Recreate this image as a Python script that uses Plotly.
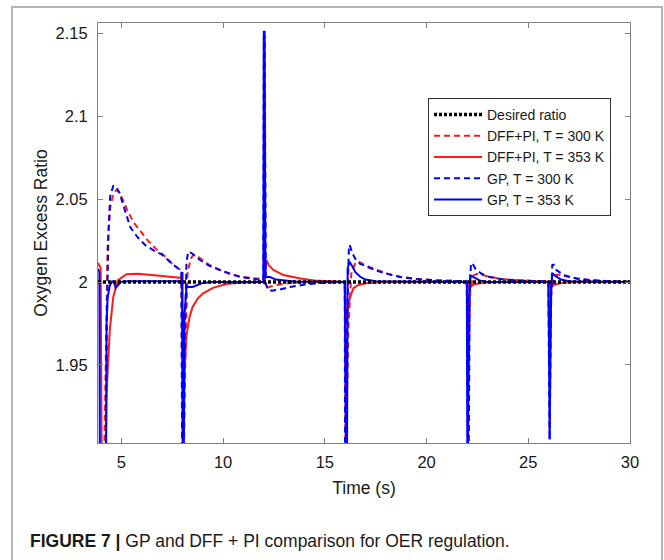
import plotly.graph_objects as go

# ---------------- data ----------------
desired_t = [3.85, 30.0]
desired_v = [2.0, 2.0]

dffpi_300_t = [4.10, 4.22, 4.32, 4.45, 4.60, 4.75, 4.90, 5.10, 5.30, 5.60, 5.93, 6.30, 6.70, 7.10, 7.50, 7.95,
               8.02, 8.15, 8.25, 8.40, 8.55, 8.80, 9.30, 9.80, 10.4, 11.0, 11.6, 11.98,
               12.02, 12.15, 12.50, 13.2, 14.0, 15.98,
               16.02, 16.15, 16.30, 16.50, 16.65, 17.0, 17.56, 18.1, 18.7, 19.5, 20.5, 21.98,
               22.04, 22.15, 22.30, 22.50, 23.0, 23.6, 24.5, 25.98,
               26.05, 26.15, 26.30, 26.50, 27.0, 27.8, 29.0, 30.0]
dffpi_300_v = [1.85, 1.96, 2.02, 2.045, 2.053, 2.0555, 2.054, 2.049, 2.043, 2.036, 2.031, 2.025, 2.020, 2.016, 2.011, 2.007,
               1.85, 1.96, 2.005, 2.014, 2.0165, 2.015, 2.0105, 2.0075, 2.0045, 2.003, 2.0022, 2.002,
               2.0, 1.9965, 1.998, 1.9993, 2.0, 2.0,
               1.88, 1.97, 2.005, 2.0115, 2.0125, 2.010, 2.0073, 2.005, 2.0032, 2.002, 2.001, 2.0005,
               1.93, 1.995, 2.004, 2.005, 2.0035, 2.002, 2.001, 2.0003,
               1.95, 1.998, 2.004, 2.0045, 2.003, 2.0015, 2.0005, 2.0002]

dffpi_353_t = [3.85, 3.93, 3.98, 4.05, 4.20, 4.26, 4.37, 4.43, 4.60, 4.82, 5.25, 5.80, 6.50, 7.30, 7.97,
               8.03, 8.10, 8.20, 8.35, 8.50, 8.75, 9.00, 9.50, 10.2, 11.0, 11.98,
               12.05, 12.12, 12.25, 12.47, 12.96, 13.8, 14.5, 15.5, 15.98,
               16.05, 16.15, 16.25, 16.40, 16.60, 17.0, 18.0, 21.98,
               22.08, 22.30, 22.80, 23.5, 25.98,
               26.10, 26.30, 26.80, 27.5, 30.0]
dffpi_353_v = [2.0115, 2.009, 2.0085, 1.85, 1.85, 1.931, 1.961, 1.971, 1.991, 2.001, 2.0047, 2.005, 2.0042, 2.0032, 2.0025,
               1.85, 1.945, 1.968, 1.979, 1.985, 1.990, 1.993, 1.9965, 1.999, 1.9998, 2.0,
               2.0, 2.0135, 2.010, 2.0073, 2.0042, 2.0022, 2.001, 2.0003, 2.0,
               1.975, 1.986, 1.991, 1.9962, 1.998, 1.9993, 2.0, 2.0,
               1.996, 1.9985, 1.9997, 2.0, 2.0,
               1.997, 1.9985, 1.9998, 2.0, 2.0]

gp_300_t = [4.20, 4.28, 4.36, 4.45, 4.60, 4.75, 4.90, 5.10, 5.44, 5.80, 6.20, 6.60, 7.00, 7.50, 7.95,
            8.00, 8.12, 8.20, 8.28, 8.45, 8.86, 9.30, 9.84, 10.8, 11.8, 11.98,
            12.00, 12.04, 12.10, 12.20, 12.40, 12.80, 13.3, 14.0, 14.8, 15.98,
            16.00, 16.10, 16.18, 16.22, 16.35, 16.50, 16.74, 17.2, 17.56, 18.2, 18.7, 19.5, 20.5, 21.98,
            22.05, 22.12, 22.18, 22.25, 22.40, 22.70, 23.1, 23.8, 25.98,
            26.05, 26.12, 26.18, 26.25, 26.40, 26.80, 27.4, 28.5, 30.0]
gp_300_v = [1.85, 1.97, 2.03, 2.052, 2.058, 2.0575, 2.054, 2.046, 2.033, 2.027, 2.022, 2.019, 2.0165, 2.011, 2.0065,
            1.85, 1.97, 2.012, 2.0183, 2.0175, 2.0133, 2.010, 2.0073, 2.0032, 2.0012, 2.001,
            2.148, 2.148, 1.999, 1.9955, 1.9948, 1.9955, 1.997, 1.9985, 1.9995, 2.0,
            1.85, 1.98, 2.020, 2.0224, 2.0175, 2.014, 2.011, 2.0085, 2.0068, 2.0045, 2.003, 2.0018, 2.001, 2.0005,
            1.85, 1.99, 2.011, 2.0115, 2.008, 2.005, 2.003, 2.0015, 2.0003,
            1.905, 1.99, 2.0103, 2.0105, 2.007, 2.004, 2.002, 2.0007, 2.0002]

gp_353_t = [3.85, 3.92, 3.95, 4.24, 4.27, 4.32, 4.43, 4.55, 4.63, 4.72, 4.80, 4.95, 5.30, 7.95,
            8.00, 8.04, 8.10, 8.20, 8.50, 9.00, 9.50, 11.98,
            12.00, 12.04, 12.08, 12.30, 12.60, 13.5, 15.98,
            16.00, 16.08, 16.12, 16.20, 16.35, 16.50, 16.74, 17.0, 17.5, 21.98,
            22.02, 22.08, 22.15, 22.30, 22.60, 23.0, 26.0,
            26.05, 26.12, 26.18, 26.30, 26.60, 27.0, 30.0]
gp_353_v = [2.008, 2.006, 1.85, 1.85, 1.975, 1.99, 1.998, 2.0005, 2.0, 1.9965, 1.9975, 2.0, 2.0005, 2.0005,
            2.006, 1.85, 1.98, 1.997, 1.997, 1.9995, 2.0, 2.0,
            2.151, 2.151, 2.003, 2.003, 2.0015, 2.0003, 2.0,
            1.85, 1.85, 2.008, 2.0123, 2.0095, 2.006, 2.0032, 2.0015, 2.0005, 2.0,
            1.85, 1.99, 2.004, 2.003, 2.001, 2.0, 2.0,
            1.905, 1.995, 2.0053, 2.004, 2.0015, 2.0005, 2.0]

x_tickvals = [5, 10, 15, 20, 25, 30]
y_tickvals = [1.95, 2.0, 2.05, 2.1, 2.15]
y_ticktext = ["1.95", "2", "2.05", "2.1", "2.15"]

# ---------------- layout geometry ----------------
W, H = 664, 560
L, R, T, B = 98, 34, 23, 117
PW, PH = W - L - R, H - T - B

def px2x(px):
    return (px - L) / PW

def px2y(py):
    return 1 - (py - T) / PH

RED = "#ff1a1a"
BLUE = "#0000ff"
FONT = "Liberation Sans, Arial, Helvetica, sans-serif"
TXT = "#1a1a1a"

fig = go.Figure()
fig.add_trace(go.Scatter(x=dffpi_300_t, y=dffpi_300_v, mode="lines", name="DFF+PI, T = 300 K",
                         line=dict(color=RED, width=2, dash="6px,4px"), legendrank=2))
fig.add_trace(go.Scatter(x=dffpi_353_t, y=dffpi_353_v, mode="lines", name="DFF+PI, T = 353 K",
                         line=dict(color=RED, width=2), legendrank=3))
fig.add_trace(go.Scatter(x=gp_300_t, y=gp_300_v, mode="lines", name="GP, T = 300 K",
                         line=dict(color=BLUE, width=2, dash="6px,4px"), legendrank=4))
fig.add_trace(go.Scatter(x=gp_353_t, y=gp_353_v, mode="lines", name="GP, T = 353 K",
                         line=dict(color=BLUE, width=2), legendrank=5))
fig.add_trace(go.Scatter(x=desired_t, y=desired_v, mode="lines", name="Desired ratio",
                         line=dict(color="black", width=3.5, dash="3px,2px"), legendrank=1))

axis_common = dict(showgrid=False, zeroline=False, showline=True, linecolor="#7f7f7f", linewidth=1,
                   mirror="allticks", ticks="inside", ticklen=5, tickcolor="#7f7f7f",
                   tickfont=dict(family=FONT, size=16.5, color=TXT))

fig.update_layout(
    width=W, height=H,
    margin=dict(l=L, r=R, t=T, b=B),
    paper_bgcolor="white", plot_bgcolor="white",
    font=dict(family=FONT, color=TXT),
    xaxis=dict(range=[3.85, 30], tickvals=x_tickvals, ticklabelstandoff=4,
               title=dict(text="Time (s)", font=dict(family=FONT, size=17.5), standoff=11),
               **axis_common),
    yaxis=dict(range=[1.9029, 2.1563], tickvals=y_tickvals, ticktext=y_ticktext, ticklabelstandoff=6,
               title=dict(text="Oxygen Excess Ratio", font=dict(family=FONT, size=17.5), standoff=3),
               **axis_common),
    legend=dict(x=px2x(428), y=px2y(98), xanchor="left", yanchor="top",
                bgcolor="white", bordercolor="#333333", borderwidth=1,
                font=dict(family=FONT, size=14, color=TXT),
                itemwidth=48, tracegroupgap=0),
    showlegend=True,
    shapes=[dict(type="rect", xref="paper", yref="paper",
                 x0=px2x(12), x1=px2x(662), y0=px2y(620), y1=px2y(7),
                 line=dict(color="#b4b4b4", width=2), fillcolor="rgba(0,0,0,0)", layer="below")],
    annotations=[dict(xref="paper", yref="paper", x=px2x(28), y=px2y(541),
                      xanchor="left", yanchor="middle", showarrow=False,
                      text="<b>FIGURE 7 |</b> GP and DFF + PI comparison for OER regulation.",
                      font=dict(family=FONT, size=17.5, color=TXT))],
)

fig.write_html("out.html")
